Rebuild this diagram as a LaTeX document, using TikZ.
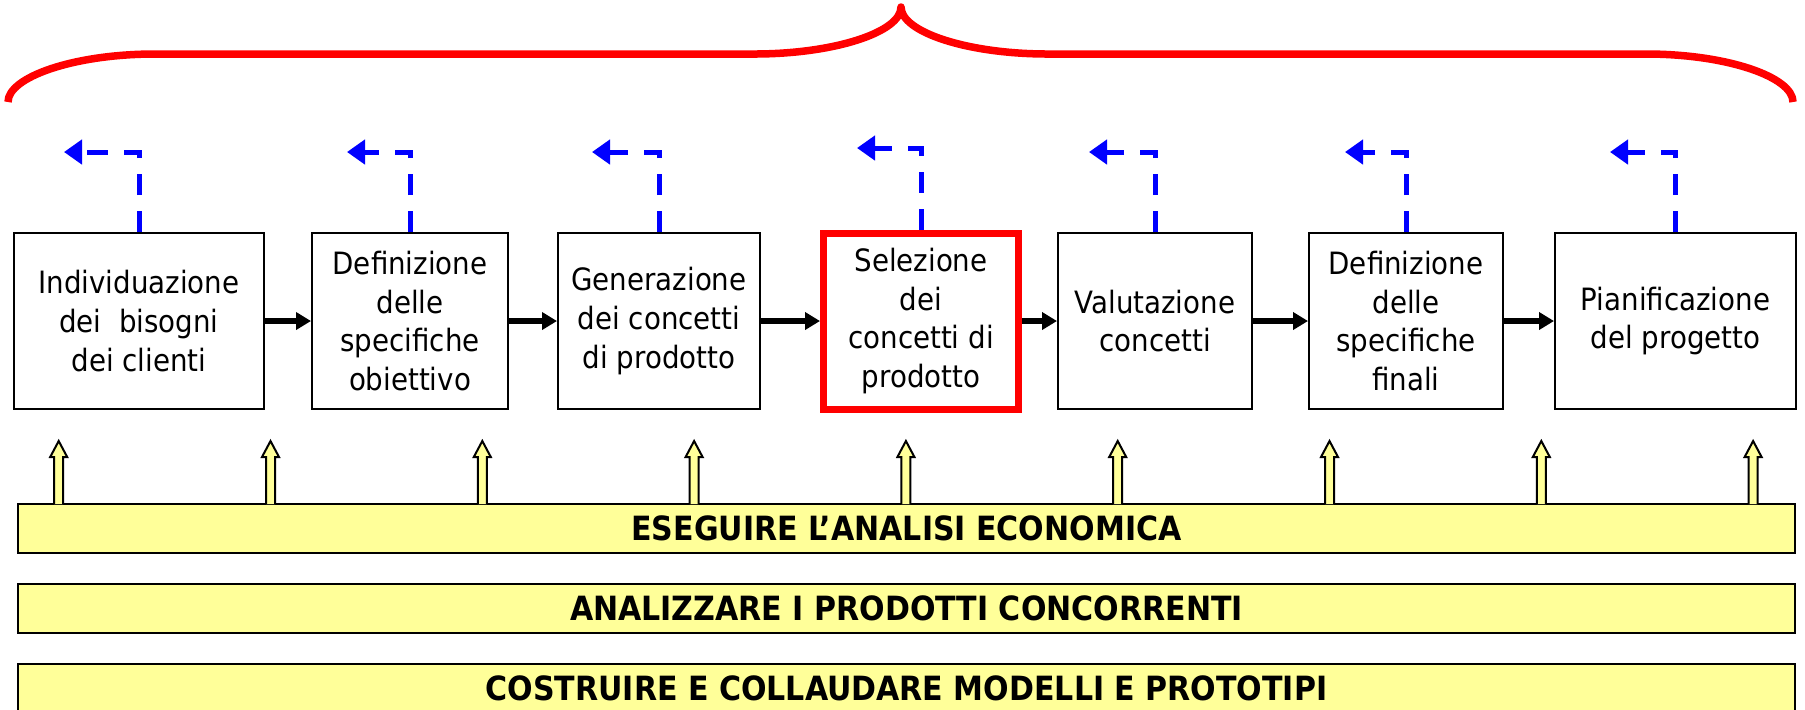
\documentclass[tikz,border=0pt]{standalone}
\usepackage{fontspec}
\setmainfont{DejaVu Sans Condensed}
\usetikzlibrary{arrows.meta}
\definecolor{giallo}{RGB}{255,255,153}

\begin{document}
\begin{tikzpicture}[
    fase/.style={draw, line width=0.02cm, fill=white, align=center, inner sep=0pt, minimum height=1.76cm, font=\fontsize{8.75}{11}\selectfont},
    scelta/.style={fase, draw=red, line width=0.07cm},
    barra/.style={draw, line width=0.02cm, fill=giallo, minimum width=17.77cm, minimum height=0.49cm, inner sep=0pt, font=\fontsize{9.5}{11}\selectfont\bfseries},
    avanti/.style={line width=0.06cm, -{Triangle[length=0.15cm,width=0.17cm]}},
    ritorno/.style={blue, line width=0.05cm, dash pattern=on 0.21cm off 0.16cm, -{Triangle[length=0.18cm,width=0.24cm]}},
    freccia/.style={draw, line width=0.02cm, fill=giallo},
    graffa/.style={red, line width=0.075cm, line join=round}
]
    \useasboundingbox (0,0) rectangle (18.05,-7.09);

    % main graph
    % nodes (phases)
    \node[fase, minimum width=2.50cm] (bisogni) at (1.39,-3.21) {Individuazione\\dei~~bisogni\\dei clienti};
    \node[fase, minimum width=1.96cm] (specobj) at (4.10,-3.21) {Definizione\\delle\\specifiche\\obiettivo};
    \node[fase, minimum width=2.02cm] (generaz) at (6.59,-3.21) {Generazione\\dei concetti\\di prodotto};
    \node[scelta, minimum width=1.95cm] (selez) at (9.21,-3.21) {Selezione\\dei\\concetti di\\prodotto};
    \node[fase, minimum width=1.94cm] (valut) at (11.55,-3.21) {Valutazione\\concetti};
    \node[fase, minimum width=1.94cm] (specfin) at (14.06,-3.21) {Definizione\\delle\\specifiche\\finali};
    \node[fase, minimum width=2.41cm] (pianif) at (16.755,-3.21) {Pianificazione\\del progetto};

    % paths
    \draw[avanti] (bisogni) -- (specobj); % bisogni -> specifiche obiettivo
    \draw[avanti] (specobj) -- (generaz); % specifiche -> generazione
    \draw[avanti] (generaz) -- (selez); % generazione -> selezione
    \draw[avanti] (selez) -- (valut); % selezione -> valutazione
    \draw[avanti] (valut) -- (specfin); % valutazione -> specifiche finali
    \draw[avanti] (specfin) -- (pianif); % specifiche finali -> pianificazione

    % feedback (dashed)
    \foreach \n/\x/\y in {bisogni/0.64/-1.52, specobj/3.47/-1.52, generaz/5.92/-1.52, selez/8.57/-1.48, valut/10.89/-1.52, specfin/13.45/-1.52, pianif/16.10/-1.52} {
        \coordinate (\n-fb) at (\x,\y);
        \draw[ritorno] (\n.north) |- (\n-fb);
    }

    % brace
    \draw[graffa] (0.08,-1.02) .. controls (0.08,-0.77) and (0.74,-0.54) .. (1.55,-0.54)
        -- (7.54,-0.54) .. controls (8.35,-0.54) and (9.01,-0.32) .. (9.01,-0.07)
        .. controls (9.01,-0.32) and (9.67,-0.54) .. (10.48,-0.54)
        -- (16.46,-0.54) .. controls (17.27,-0.54) and (17.93,-0.77) .. (17.93,-1.02);

    % extras
    % nodes (activities)
    \node[barra] (economica) at (9.065,-5.285) {ESEGUIRE L’ANALISI ECONOMICA};
    \node[barra] (concorrenti) at (9.065,-6.085) {ANALIZZARE I PRODOTTI CONCORRENTI};
    \node[barra] (prototipi) at (9.065,-6.885) {COSTRUIRE E COLLAUDARE MODELLI E PROTOTIPI};

    % paths (yellow arrows)
    \foreach \i in {0,...,8} {
        \coordinate (su\i) at ({0.587+2.118*\i},-5.04);
        \filldraw[freccia] (su\i) ++(-0.045,0) -- ++(0,0.47) -- ++(-0.04,0) -- ++(0.085,0.16) -- ++(0.085,-0.16) -- ++(-0.04,0) -- ++(0,-0.47);
    }

\end{tikzpicture}
\end{document}
